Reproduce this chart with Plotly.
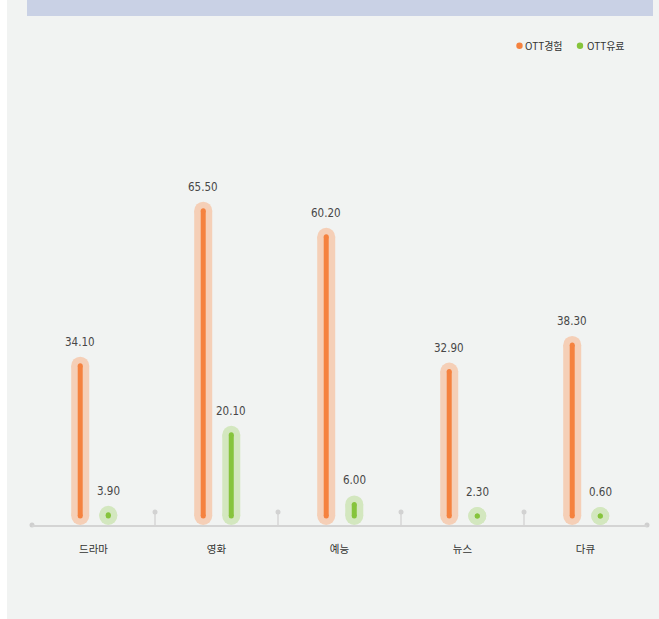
import plotly.graph_objects as go

# ---- data ----
categories = ["드라마", "영화", "예능", "뉴스", "다큐"]
ott_experience = [34.10, 65.50, 60.20, 32.90, 38.30]   # OTT경험
ott_paid = [3.90, 20.10, 6.00, 2.30, 0.60]             # OTT유료
series_names = ["OTT경험", "OTT유료"]

# ---- style ----
W, H = 659, 619
ML, MR, MT, MB = 32, 12, 156, 94
PW, PH = W - ML - MR, H - MT - MB
PPU = 4.936                      # pixels per value unit
Y_TOP = PH / PPU

ORANGE, ORANGE_HALO = "#f5823f", "#f5cfb7"
GREEN, GREEN_HALO = "#86c43c", "#d3e7bf"
HALO_W, INNER_W = 18, 5
NUM_FONT = "Liberation Sans Narrow, DejaVu Sans Condensed, Roboto, sans-serif"
KR_FONT = "Noto Sans CJK KR, sans-serif"

def px2x(px):
    return (px - ML) / PW

def py2y(py):
    return (H - MB - py) / PH

r_units = (HALO_W / 2) / PPU
min_units = HALO_W / PPU

fig = go.Figure()

def add_series(values, offset, color, halo):
    xs, ys = [], []
    for i, v in enumerate(values):
        bottom = r_units
        top = max(v - r_units, bottom)
        xs += [i + offset, i + offset, None]
        ys += [bottom, top, None]
    for w, c in ((HALO_W, halo), (INNER_W, color)):
        fig.add_trace(go.Scatter(
            x=xs, y=ys, mode="lines+markers",
            line=dict(color=c, width=w),
            marker=dict(color=c, size=w, line=dict(width=0)),
            showlegend=False, hoverinfo="skip", cliponaxis=False))
    for i, v in enumerate(values):
        fig.add_annotation(
            x=i + offset, y=max(v, min_units), text=f"{v:.2f}",
            showarrow=False, yanchor="bottom", yshift=6,
            font=dict(family=NUM_FONT, size=11.5, color="#474747"))

add_series(ott_experience, -0.108, ORANGE, ORANGE_HALO)
add_series(ott_paid, 0.12, GREEN, GREEN_HALO)

# separators between categories
sep_x, sep_y, sep_tx = [], [], []
sep_h = 13 / PPU
for i in range(len(categories) - 1):
    sep_x += [i + 0.5, i + 0.5, None]
    sep_y += [0, sep_h, None]
    sep_tx.append(i + 0.5)
fig.add_trace(go.Scatter(x=sep_x, y=sep_y, mode="lines",
                         line=dict(color="#d6d6d6", width=1.5),
                         showlegend=False, hoverinfo="skip", cliponaxis=False))
fig.add_trace(go.Scatter(x=sep_tx, y=[sep_h] * len(sep_tx), mode="markers",
                         marker=dict(color="#d2d2d2", size=5),
                         showlegend=False, hoverinfo="skip", cliponaxis=False))
# axis end dots
fig.add_trace(go.Scatter(x=[-0.5, len(categories) - 0.5], y=[0, 0], mode="markers",
                         marker=dict(color="#cfcfcf", size=5),
                         showlegend=False, hoverinfo="skip", cliponaxis=False))

# ---- background panel / title band ----
shapes = [
    dict(type="rect", xref="paper", yref="paper", layer="below",
         x0=px2x(7), x1=px2x(W + 5), y0=py2y(H + 5), y1=py2y(-5),
         fillcolor="#f1f3f2", line=dict(width=0)),
    dict(type="rect", xref="paper", yref="paper", layer="below",
         x0=px2x(27), x1=px2x(653), y0=py2y(16), y1=py2y(-5),
         fillcolor="#c9d1e5", line=dict(width=0)),
]
# legend
legend_items = [(series_names[0], ORANGE, 519.5, 522.5),
                (series_names[1], GREEN, 580, 584.5)]
for name, col, cx, tx in legend_items:
    shapes.append(dict(type="circle", xref="paper", yref="paper",
                       x0=px2x(cx - 3.2), x1=px2x(cx + 3.2),
                       y0=py2y(45.7 + 3.2), y1=py2y(45.7 - 3.2),
                       fillcolor=col, line=dict(width=0)))
    fig.add_annotation(xref="paper", yref="paper", x=px2x(tx), y=py2y(45.7),
                       text=name, showarrow=False, xanchor="left", yanchor="middle",
                       font=dict(family=KR_FONT, size=10, color="#333333"))

fig.update_layout(
    width=W, height=H,
    margin=dict(l=ML, r=MR, t=MT, b=MB),
    paper_bgcolor="white", plot_bgcolor="rgba(0,0,0,0)",
    shapes=shapes, showlegend=False,
    xaxis=dict(range=[-0.5, len(categories) - 0.5],
               tickvals=list(range(len(categories))), ticktext=categories,
               showgrid=False, zeroline=False, ticks="",
               showline=True, linecolor="#d4d4d4", linewidth=1.5,
               ticklabelstandoff=14,
               tickfont=dict(family=KR_FONT, size=10.5, color="#333333"),
               fixedrange=True),
    yaxis=dict(range=[0, Y_TOP], visible=False, showgrid=False,
               zeroline=False, fixedrange=True),
)

fig.write_html("out.html")
